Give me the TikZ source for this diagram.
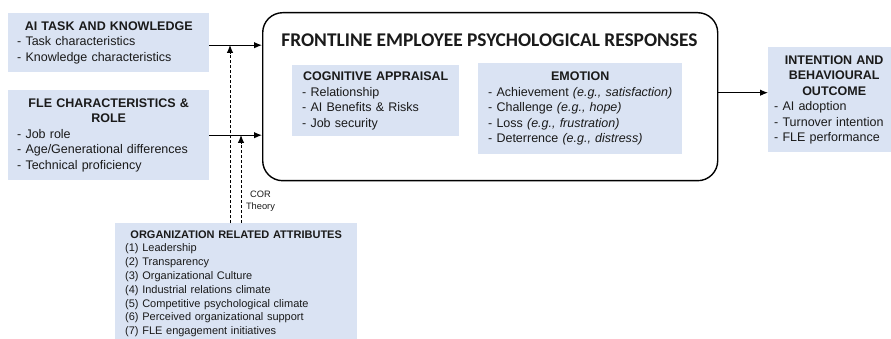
\documentclass[tikz,border=0pt]{standalone}
\usepackage{fontspec}
\setmainfont{Liberation Sans}
\newfontfamily\titlefont{Carlito}
\usetikzlibrary{arrows.meta,positioning}
\definecolor{paleblue}{HTML}{DAE3F3}
\definecolor{ink}{HTML}{1A1A1A}
\newcommand{\boxhead}[1]{\makebox[\hsize][c]{\bfseries #1}}

\begin{document}
\begin{tikzpicture}[x=1pt,y=-1pt,>={Latex[length=8pt,width=6.5pt]},
panel/.style={fill=paleblue,anchor=north west,align=left,inner xsep=9pt,inner ysep=0pt,text=ink,font=\fontsize{12.5}{15.5}\selectfont},
orgpanel/.style={panel,inner xsep=10pt,font=\fontsize{11}{13.8}\selectfont},
frame/.style={draw,line width=1.4pt,rounded corners=20pt,anchor=north west,inner sep=0pt},
link/.style={->,line width=1.1pt},
corlink/.style={->,line width=0.9pt,dash pattern=on 3pt off 2pt}]

\useasboundingbox (0,0) rectangle (891,339);
\clip (0,0) rectangle (891,339);

% antecedents on the left
\node[panel,text width=183,minimum height=59] (task) at (8,13){\boxhead{AI TASK AND KNOWLEDGE}\\
- Task characteristics\\
- Knowledge characteristics};

\node[panel,text width=183,minimum height=90] (fle) at (8,90){\boxhead{FLE CHARACTERISTICS \&}\\
\boxhead{ROLE}\\
- Job role\\
- Age/Generational differences\\
- Technical proficiency};

\node[orgpanel,text width=222,minimum height=121] (org) at (115,223){\boxhead{ORGANIZATION RELATED ATTRIBUTES}\\
(1) Leadership\\
(2) Transparency\\
(3) Organizational Culture\\
(4) Industrial relations climate\\
(5) Competitive psychological climate\\
(6) Perceived organizational support\\
(7) FLE engagement initiatives};

% psychological responses
\node[frame,minimum width=455,minimum height=168] (main) at (262,12){};
\node[font=\titlefont\bfseries\fontsize{19.4}{22}\selectfont,text=ink] (title) at (489.5,40){FRONTLINE EMPLOYEE PSYCHOLOGICAL RESPONSES};

\node[panel,inner xsep=10pt,text width=147,minimum height=71] (appr) at (292,65){\boxhead{COGNITIVE APPRAISAL}\\
- Relationship\\
- AI Benefits \& Risks\\
- Job security};

\node[panel,inner xsep=7pt,text width=190,minimum height=91] (emo) at (478,63){\boxhead{EMOTION}\\
\hspace*{3pt}- Achievement \textit{(e.g., satisfaction)}\\
\hspace*{3pt}- Challenge \textit{(e.g., hope)}\\
\hspace*{3pt}- Loss \textit{(e.g., frustration)}\\
\hspace*{3pt}- Deterrence \textit{(e.g., distress)}};

% outcome
\node[panel,inner xsep=6pt,text width=120,minimum height=105] (outc) at (768,47){\boxhead{INTENTION AND}\\
\boxhead{BEHAVIOURAL}\\
\boxhead{OUTCOME}\\
- AI adoption\\
- Turnover intention\\
- FLE performance};

\draw[link] ([yshift=-2.5]task.east) -- ([yshift=-2.5]task.east -| main.west);
\draw[link] (fle.east) -- (fle.east -| main.west);
\draw[link] ([yshift=4]main.east) -- ([yshift=4]main.east -| outc.west);

% COR theory moderation
\coordinate (j1) at (230,45);
\coordinate (j2) at (241,135);
\draw[corlink] (org.north -| j1) -- (j1);
\draw[corlink] (org.north -| j2) -- (j2);
\node[align=center,inner sep=0pt,text=ink,font=\fontsize{9.3}{12}\selectfont] (cor) at (260.5,201){COR\\Theory};
\end{tikzpicture}
\end{document}
